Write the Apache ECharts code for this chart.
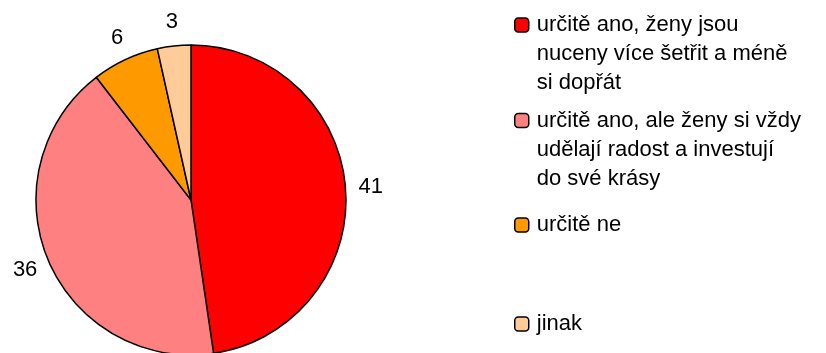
<!DOCTYPE html>
<html>
<head>
<meta charset="utf-8">
<script src="https://cdn.jsdelivr.net/npm/echarts@6/dist/echarts.min.js"></script>
<style>
  html, body { margin: 0; padding: 0; background: #fff; }
  #chart { width: 826px; height: 353px; }
</style>
</head>
<body>
<div id="chart"></div>
<script>
// Survey answers and their counts
const categories = [
  'určitě ano, ženy jsou nuceny více šetřit a méně si dopřát',
  'určitě ano, ale ženy si vždy udělají radost a investují do své krásy',
  'určitě ne',
  'jinak'
];
// Legend text broken into lines
const legendLines = [
  ['určitě ano, ženy jsou', 'nuceny více šetřit a méně', 'si dopřát'],
  ['určitě ano, ale ženy si vždy', 'udělají radost a investují', 'do své krásy'],
  ['určitě ne'],
  ['jinak']
];
const values = [41, 36, 6, 3];
const colors = ['#FF0000', '#FF8080', '#FF9900', '#FFCC99'];

// Pie geometry and styling
const CX = 191, CY = 200, R = 155, LABEL_GAP = 13;
const FONT = 'Liberation Sans, Arial, sans-serif';
const LEGEND_LH = 29;
const ICON = 14;
const legendIconCenters = [25, 120.5, 225, 324];

// Mid-angle direction of each slice (clockwise from 12 o'clock)
const total = values.reduce((a, b) => a + b, 0);
const dirs = [];
let acc = 0;
values.forEach(v => {
  const mid = (acc + v / 2) / total * 2 * Math.PI;
  dirs.push({ x: Math.sin(mid), y: -Math.cos(mid) });
  acc += v;
});

const chart = echarts.init(document.getElementById('chart'), null, { renderer: 'canvas' });

// Legend text is centred on its marker, so blank lines are put in front
// to keep the marker level with the first line of a wrapped entry.
const legends = categories.map((name, i) => {
  const n = legendLines[i].length;
  const half = Math.max((2 * n - 1) * LEGEND_LH / 2, ICON / 2);
  return {
    orient: 'vertical',
    left: 514,
    top: legendIconCenters[i] - half,
    padding: 0,
    itemWidth: ICON,
    itemHeight: ICON,
    selectedMode: false,
    data: [name],
    formatter: nm => {
      const lines = legendLines[categories.indexOf(nm)];
      const pad = new Array(lines.length - 1).fill('\u200b');
      return pad.concat(lines.map(s => '{t|' + s + '}')).join('\n');
    },
    itemStyle: { borderColor: '#000', borderWidth: 1.5 },
    textStyle: {
      fontFamily: FONT,
      fontSize: 22,
      color: '#000',
      lineHeight: LEGEND_LH,
      rich: {
        t: { fontFamily: FONT, fontSize: 22, color: '#000', lineHeight: LEGEND_LH, padding: [0, 0, 0, 3] }
      }
    }
  };
});

chart.setOption({
  animation: false,
  backgroundColor: '#fff',
  legend: legends,
  series: [{
    type: 'pie',
    center: [CX, CY],
    radius: R,
    startAngle: 90,
    clockwise: true,
    avoidLabelOverlap: false,
    itemStyle: { borderColor: '#000', borderWidth: 1.5 },
    emphasis: { disabled: true },
    label: {
      show: true,
      position: 'outside',
      formatter: '{c}',
      fontFamily: FONT,
      fontSize: 22,
      color: '#000'
    },
    labelLine: { show: false },
    labelLayout: function (p) {
      const d = dirs[p.dataIndex];
      const w = p.labelRect.width, h = p.labelRect.height;
      return {
        x: CX + d.x * (R + LABEL_GAP) + d.x * w / 2,
        y: CY + d.y * (R + LABEL_GAP) + d.y * h / 2,
        align: 'center',
        verticalAlign: 'middle'
      };
    },
    data: categories.map((name, i) => ({
      name: name,
      value: values[i],
      itemStyle: { color: colors[i] }
    }))
  }]
});
</script>
</body>
</html>
